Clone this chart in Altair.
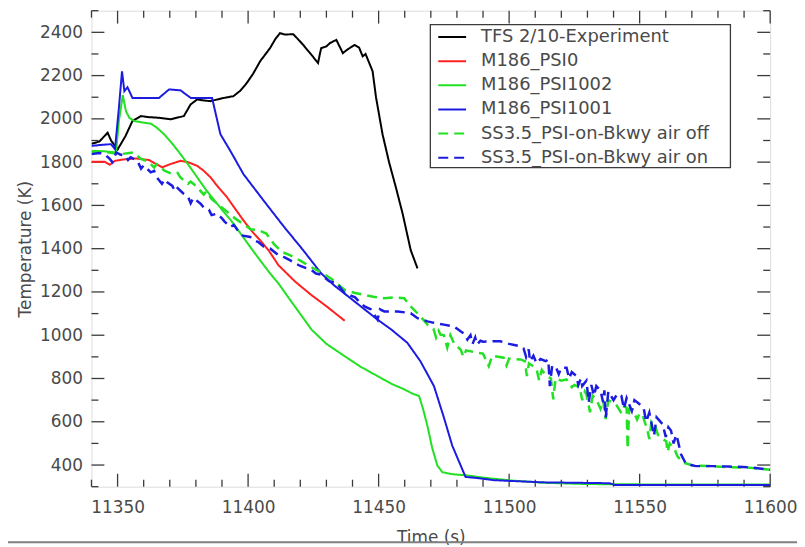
import altair as alt
import pandas as pd

# ---------------- data ----------------
series_names = ["TFS 2/10-Experiment", "M186_PSI0", "M186_PSI1002", "M186_PSI1001",
                "SS3.5_PSI-on-Bkwy air off", "SS3.5_PSI-on-Bkwy air on"]
series_colors = ["#000000", "#ff2020", "#22e022", "#1c1ce0", "#22e022", "#1c1ce0"]
series_dash = [[1, 0], [1, 0], [1, 0], [1, 0], [10, 6], [10, 6]]
series_width = [2, 2, 2, 2, 2.5, 2.5]

tfs_t = [11340, 11343, 11346.2, 11347.5, 11350, 11353, 11355.7, 11358.9, 11362, 11366,
         11370.3, 11375.4, 11378, 11380.5, 11383, 11385.6, 11390, 11394.4, 11397, 11399.5,
         11402, 11404.6, 11408.4, 11410.5, 11412.2, 11414, 11417.3, 11419, 11421.1, 11424,
         11426.8, 11427.5, 11428, 11430, 11431.3, 11433.8, 11436.3, 11438, 11440.8, 11442.5,
         11443.9, 11445, 11447.7, 11449, 11451.5, 11454, 11456.6, 11459.2, 11462.3, 11464.9]
tfs_T = [1885, 1895, 1936, 1900, 1858, 1920, 1990, 2013, 2008, 2005,
         1998, 2013, 2067, 2090, 2085, 2082, 2095, 2105, 2130, 2166,
         2210, 2266, 2327, 2370, 2396, 2390, 2391, 2370, 2342, 2300,
         2258, 2300, 2327, 2335, 2350, 2365, 2304, 2320, 2342, 2330,
         2289, 2300, 2220, 2100, 1929, 1800, 1684, 1562, 1393, 1309]

psi0_t = [11340, 11345, 11347, 11349, 11352, 11357, 11362, 11367.1, 11370, 11374.1,
          11377, 11380.5, 11383, 11385.6, 11388.5, 11391.9, 11395, 11398.2, 11401.5, 11404.6,
          11408, 11411.6, 11418, 11424, 11430, 11437]
psi0_T = [1802, 1802, 1788, 1806, 1812, 1817, 1810, 1776, 1790, 1806,
          1800, 1783, 1760, 1730, 1685, 1638, 1585, 1531, 1480, 1439,
          1390, 1324, 1248, 1188, 1134, 1067]

psi1002_t = [11340, 11345, 11349.4, 11350.5, 11352, 11353.2, 11354.5, 11356.4, 11360.2, 11362.7,
             11365, 11367.8, 11371, 11374.1, 11377, 11380.5, 11384, 11388.1, 11394.4, 11400.8,
             11405, 11408.4, 11411.6, 11416, 11424.3, 11430, 11437, 11443, 11449.6, 11455,
             11459.8, 11463, 11465.5, 11467, 11468.7, 11470.5, 11472.5, 11474.4, 11478, 11483.9,
             11490, 11500.4, 11513, 11530, 11560, 11600]
psi1002_T = [1852, 1850, 1845, 1990, 2110, 2036, 2005, 1990, 1982, 1978,
             1960, 1929, 1885, 1837, 1790, 1730, 1670, 1608, 1516, 1408,
             1340, 1286, 1240, 1165, 1026, 960, 903, 855, 811, 775,
             750, 730, 719, 660, 581, 480, 398, 367, 358, 352,
             342, 329, 318, 312, 310, 310]

psi1001_t = [11340, 11344, 11347.5, 11349, 11350.5, 11351.7, 11352.6, 11353.8, 11355.7, 11360,
             11365.9, 11369.7, 11374.1, 11378, 11382, 11386.2, 11389.4, 11393.2, 11398.2, 11405.9,
             11413.5, 11421.1, 11428, 11433, 11440.8, 11449.6, 11455, 11461, 11466, 11471.2,
             11475, 11478.2, 11483.3, 11487.7, 11494.1, 11513, 11538.4, 11540.5, 11600]
psi1001_T = [1875, 1880, 1883, 1860, 2050, 2220, 2128, 2146, 2097, 2097,
             2097, 2136, 2132, 2097, 2097, 2097, 1929, 1852, 1745, 1623,
             1505, 1393, 1286, 1230, 1156, 1072, 1025, 965, 880, 765,
             620, 490, 345, 340, 330, 320, 316, 308, 308]

airoff_t = [11340, 11344, 11348, 11352, 11356, 11359, 11362, 11364, 11365, 11368,
            11371, 11373, 11374, 11377, 11378, 11380, 11383, 11384, 11386, 11389,
            11392, 11395, 11398, 11401, 11404, 11407, 11410, 11413, 11416, 11420,
            11424, 11428, 11432, 11437, 11441, 11444.6, 11448, 11452.2, 11456, 11459.8,
            11462.3, 11466, 11468.7, 11471, 11472, 11473, 11473.7, 11475, 11476.3, 11477.5,
            11479, 11481.4, 11482.5, 11483.5, 11487.7, 11490, 11492.2, 11493.5, 11497.9, 11499,
            11500, 11504.3, 11506, 11506.8, 11507.6, 11510.5, 11511.5, 11512.5, 11514, 11516,
            11516.9, 11517.8, 11520, 11522, 11524, 11525, 11527, 11528, 11529, 11529.6,
            11531, 11532, 11533.4, 11535, 11536, 11537, 11538, 11541, 11543, 11544,
            11545, 11545.4, 11546, 11547.3, 11549, 11550, 11551.2, 11553, 11553.7, 11554.5,
            11556, 11557, 11558.8, 11560.2, 11560.7, 11561.5, 11563.3, 11564.5, 11566.4, 11570.2,
            11577, 11584, 11592, 11600]
airoff_T = [1845, 1850, 1842, 1838, 1845, 1815, 1800, 1775, 1790, 1760,
            1745, 1750, 1730, 1700, 1710, 1690, 1650, 1665, 1630, 1600,
            1570, 1540, 1515, 1490, 1485, 1470, 1420, 1385, 1370, 1345,
            1316, 1290, 1260, 1209, 1195, 1186, 1178, 1171, 1175, 1171,
            1133, 1087, 1049, 1030, 990, 1020, 1003, 1000, 943, 1000,
            960, 934, 900, 930, 919, 915, 857, 905, 896, 860,
            892, 888, 880, 811, 870, 845, 790, 840, 815, 800,
            704, 800, 790, 796, 760, 770, 760, 700, 740, 727,
            644, 720, 704, 660, 700, 612, 700, 680, 640, 670,
            665, 475, 660, 658, 610, 640, 627, 560, 520, 600,
            580, 540, 520, 510, 460, 500, 475, 440, 413, 398,
            395, 390, 388, 378]

airon_t = [11340, 11343, 11345, 11347, 11348, 11349.5, 11351, 11353, 11354, 11355,
           11357.6, 11359, 11360, 11362.7, 11364, 11365, 11367, 11368, 11369, 11371,
           11372, 11373, 11375.4, 11377, 11378, 11379, 11381.8, 11383, 11385, 11386,
           11388.1, 11390, 11391, 11393.2, 11394.5, 11396, 11398, 11400.8, 11402, 11404,
           11406, 11408.4, 11411.6, 11414, 11416, 11420, 11424.3, 11426, 11428, 11431,
           11434, 11437, 11441, 11443, 11444.6, 11447, 11449.6, 11450.5, 11452.2, 11457.3,
           11462.3, 11464.9, 11468.7, 11472, 11475, 11478.8, 11481.4, 11483, 11484, 11485.2,
           11486, 11487, 11487.7, 11489, 11490, 11494.1, 11496.6, 11500, 11502, 11504.3,
           11505.5, 11506.5, 11507.5, 11508, 11509.3, 11510.5, 11512, 11514, 11515, 11515.6,
           11516.5, 11518, 11519, 11520, 11522, 11523, 11524, 11525.8, 11526.5, 11527.5,
           11528, 11529.6, 11530.5, 11531.5, 11532.5, 11533.4, 11535, 11536, 11536.5, 11537,
           11538, 11540, 11541.5, 11543, 11544, 11545, 11547, 11548, 11550, 11551.5,
           11552.5, 11553.7, 11555.5, 11556.5, 11558.8, 11560, 11561, 11562, 11563, 11564,
           11564.5, 11565.8, 11567.7, 11571.5, 11578, 11584, 11591.7, 11600]
airon_T = [1837, 1842, 1838, 1815, 1800, 1845, 1835, 1830, 1810, 1822,
           1806, 1770, 1785, 1753, 1760, 1730, 1700, 1720, 1707, 1690,
           1665, 1680, 1653, 1640, 1610, 1635, 1608, 1590, 1580, 1555,
           1562, 1540, 1525, 1500, 1510, 1485, 1460, 1454, 1440, 1430,
           1410, 1401, 1370, 1360, 1347, 1320, 1301, 1285, 1280, 1250,
           1240, 1194, 1175, 1150, 1133, 1120, 1072, 1120, 1110, 1110,
           1102, 1079, 1064, 1055, 1049, 1041, 1018, 1005, 980, 1000,
           960, 990, 957, 975, 970, 972, 972, 960, 955, 949,
           940, 900, 935, 880, 905, 870, 890, 880, 888, 765,
           860, 850, 820, 850, 850, 800, 830, 811, 770, 800,
           765, 790, 690, 770, 720, 765, 745, 690, 745, 620,
           740, 700, 730, 720, 660, 710, 650, 700, 681, 665,
           600, 643, 535, 620, 589, 530, 575, 560, 500, 540,
           520, 451, 406, 395, 395, 393, 390, 378]

x_major_ticks = [11350, 11400, 11450, 11500, 11550, 11600]
x_minor_ticks = [11340, 11360, 11370, 11380, 11390, 11410, 11420, 11430, 11440,
                 11460, 11470, 11480, 11490, 11510, 11520, 11530, 11540,
                 11560, 11570, 11580, 11590]
y_major_ticks = [400, 600, 800, 1000, 1200, 1400, 1600, 1800, 2000, 2200, 2400]
y_minor_ticks = [300, 500, 700, 900, 1100, 1300, 1500, 1700, 1900, 2100, 2300, 2500]

# ---------------- build table ----------------
all_t = [tfs_t, psi0_t, psi1002_t, psi1001_t, airoff_t, airon_t]
all_T = [tfs_T, psi0_T, psi1002_T, psi1001_T, airoff_T, airon_T]
rows = []
for name, ts, Ts in zip(series_names, all_t, all_T):
    for i, (t, T) in enumerate(zip(ts, Ts)):
        rows.append({"series": name, "t": t, "T": T, "idx": i})
df = pd.DataFrame(rows)

W, H = 683, 479
FONT = "DejaVu Sans"
TXT = "#4a4a4a"
AX = "#3a3a3a"

xscale = alt.Scale(domain=[11340, 11600], nice=False, zero=False)
yscale = alt.Scale(domain=[300, 2500], nice=False, zero=False)

xaxis = alt.Axis(values=x_major_ticks, format="d", ticks=False, tickSize=0, domain=False,
                 grid=False, labelPadding=13, labelFontSize=17, labelFont=FONT,
                 labelColor=TXT, labelFlush=False, labelOverlap=False,
                 title="Time (s)", titleFont=FONT, titleFontSize=17,
                 titleFontWeight="normal", titleColor=TXT, titleY=56,
                 titleBaseline="alphabetic")
yaxis = alt.Axis(values=y_major_ticks, format="d", ticks=False, tickSize=0, domain=False,
                 grid=False, labelPadding=9, labelFontSize=17, labelFont=FONT,
                 labelColor=TXT, labelFlush=False, labelOverlap=False,
                 title="Temperature (K)", titleFont=FONT, titleFontSize=17,
                 titleFontWeight="normal", titleColor=TXT, titleX=-61, titleY=H / 2,
                 titleBaseline="alphabetic", titleAngle=270)

x_enc = alt.X("t:Q", scale=xscale, axis=xaxis)
y_enc = alt.Y("T:Q", scale=yscale, axis=yaxis)

legend = alt.Legend(title=None, orient="none", legendX=341, legendY=14,
                    symbolType="stroke", symbolSize=784, symbolStrokeWidth=2,
                    symbolOffset=3, labelOffset=14, labelFont=FONT, labelFontSize=18,
                    labelColor=TXT, rowPadding=5.3, padding=4, clipHeight=17,
                    labelLimit=400)
color_enc = alt.Color("series:N", scale=alt.Scale(domain=series_names, range=series_colors),
                      legend=legend)
dash_enc = alt.StrokeDash("series:N", scale=alt.Scale(domain=series_names, range=series_dash),
                          legend=legend)

base = alt.Chart(df)
layers = []
for name, sw in zip(series_names, series_width):
    layers.append(
        base.transform_filter(alt.datum.series == name)
        .mark_line(strokeWidth=sw, clip=True)
        .encode(x=x_enc, y=y_enc, color=color_enc, strokeDash=dash_enc,
                order=alt.Order("idx:Q"))
    )

# inward tick marks on all four sides
xmaj = pd.DataFrame({"t": x_major_ticks})
xmin = pd.DataFrame({"t": x_minor_ticks})
ymaj = pd.DataFrame({"T": y_major_ticks})
ymin = pd.DataFrame({"T": y_minor_ticks})
tick_style = dict(color=AX, strokeWidth=1.3)
ticks = []
for d, ln in ((xmaj, 13), (xmin, 7)):
    ticks.append(alt.Chart(d).mark_rule(**tick_style).encode(
        x=x_enc, y=alt.value(H), y2=alt.value(H - ln)))
    ticks.append(alt.Chart(d).mark_rule(**tick_style).encode(
        x=x_enc, y=alt.value(0), y2=alt.value(ln)))
for d, ln in ((ymaj, 13), (ymin, 7)):
    ticks.append(alt.Chart(d).mark_rule(**tick_style).encode(
        y=y_enc, x=alt.value(0), x2=alt.value(ln)))
    ticks.append(alt.Chart(d).mark_rule(**tick_style).encode(
        y=y_enc, x=alt.value(W), x2=alt.value(W - ln)))

one = pd.DataFrame({"k": [0]})
# legend frame
legend_box = alt.Chart(one).mark_rect(fill="white", stroke=AX, strokeWidth=1.3).encode(
    x=alt.value(341), x2=alt.value(643), y=alt.value(14), y2=alt.value(158))
# slide separator line under the figure
sep = alt.Chart(one).mark_rule(color="#808080", strokeWidth=2).encode(
    x=alt.value(-87), x2=alt.value(713), y=alt.value(535))

chart = alt.layer(*ticks, *layers, legend_box, sep).properties(
    width=W, height=H,
    autosize=alt.AutoSizeParams(type="none"),
    padding={"left": 84, "top": 1, "right": 27, "bottom": 59},
).configure_view(stroke=AX, strokeWidth=1.5).configure(background="white")

chart.save("out.html", embed_options={"renderer": "svg", "actions": False})
